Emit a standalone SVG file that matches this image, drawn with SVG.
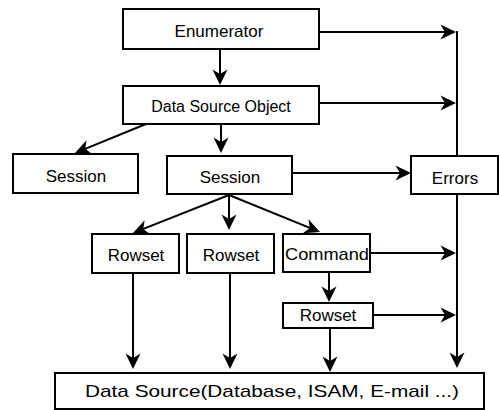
<svg xmlns="http://www.w3.org/2000/svg" width="499" height="410" viewBox="0 0 499 410">
  <style>
    .box { fill: #fff; stroke: #000; stroke-width: 2; }
    .lbl { font-family: "Liberation Sans", Arial, sans-serif; font-size: 17px; fill: #000; text-anchor: middle; }
    .small { font-size: 16px; }
    .wire { fill: none; stroke: #000; stroke-width: 2; }
    .arr { fill: none; stroke: #000; stroke-width: 2; marker-end: url(#head); }
  </style>
  <defs>
    <marker id="head" markerUnits="userSpaceOnUse" viewBox="-14 -8 18 16" refX="0" refY="0" markerWidth="18" markerHeight="16" orient="auto">
      <path d="M3,0 L-12.5,-7.5 L-8,0 L-12.5,7.5 Z" fill="#000"/>
    </marker>
  </defs>

  <rect width="499" height="410" fill="#fff"/>

  <!-- connectors -->
  <g id="connectors">
    <!-- Enumerator to Data Source Object -->
    <line class="arr" x1="220" y1="49" x2="220" y2="82"/>
    <!-- Data Source Object to the two sessions -->
    <line class="arr" x1="146" y1="124" x2="77.8" y2="151.9"/>
    <line class="arr" x1="221" y1="124" x2="221" y2="150"/>
    <!-- Session to Rowsets and Command -->
    <line class="arr" x1="229" y1="195" x2="135.8" y2="231.9"/>
    <line class="arr" x1="229" y1="195" x2="229" y2="227"/>
    <line class="arr" x1="229" y1="195" x2="317.2" y2="230.9"/>
    <!-- Command to its Rowset -->
    <line class="arr" x1="329" y1="272" x2="329" y2="299"/>
    <!-- downward flows into Data Source -->
    <line class="arr" x1="133" y1="273" x2="133" y2="366"/>
    <line class="arr" x1="230" y1="273" x2="230" y2="366"/>
    <line class="arr" x1="330" y1="328" x2="330" y2="369"/>
    <!-- error trunk -->
    <line class="wire" x1="457" y1="31" x2="457" y2="156"/>
    <line class="arr" x1="457" y1="194" x2="457" y2="365"/>
    <!-- branches into the error trunk -->
    <line class="arr" x1="319" y1="32" x2="453" y2="32"/>
    <line class="arr" x1="319" y1="103" x2="453" y2="103"/>
    <line class="arr" x1="292" y1="173" x2="408" y2="173"/>
    <line class="arr" x1="370" y1="253" x2="453" y2="253"/>
    <line class="arr" x1="373" y1="315" x2="453" y2="315"/>
  </g>

  <g id="enumerator">
    <rect class="box" x="123" y="9" width="196" height="40"/>
    <text class="lbl" x="219" y="37">Enumerator</text>
  </g>

  <g id="data-source-object">
    <rect class="box" x="123" y="86" width="196" height="38"/>
    <text class="lbl small" x="221" y="112">Data Source Object</text>
  </g>

  <g id="session-left">
    <rect class="box" x="13" y="154" width="125" height="39"/>
    <text class="lbl" x="76" y="182">Session</text>
  </g>

  <g id="session">
    <rect class="box" x="167" y="156" width="125" height="38"/>
    <text class="lbl" x="230" y="183">Session</text>
  </g>

  <g id="errors">
    <rect class="box" x="411" y="156" width="87" height="38"/>
    <text class="lbl" x="455" y="184">Errors</text>
  </g>

  <g id="rowset-1">
    <rect class="box" x="92" y="234" width="87" height="39"/>
    <text class="lbl" x="136" y="261">Rowset</text>
  </g>

  <g id="rowset-2">
    <rect class="box" x="187" y="234" width="87" height="39"/>
    <text class="lbl" x="231" y="261">Rowset</text>
  </g>

  <g id="command">
    <rect class="box" x="283" y="234" width="87" height="38"/>
    <text class="lbl" x="327" y="260" textLength="84" lengthAdjust="spacingAndGlyphs">Command</text>
  </g>

  <g id="rowset-3">
    <rect class="box" x="283" y="303" width="90" height="25"/>
    <text class="lbl" x="328" y="321">Rowset</text>
  </g>

  <g id="data-source">
    <rect class="box" x="55" y="373" width="429" height="36"/>
    <text class="lbl" x="272" y="397" font-size="18" textLength="374" lengthAdjust="spacingAndGlyphs">Data Source(Database, ISAM, E-mail ...)</text>
  </g>
</svg>
